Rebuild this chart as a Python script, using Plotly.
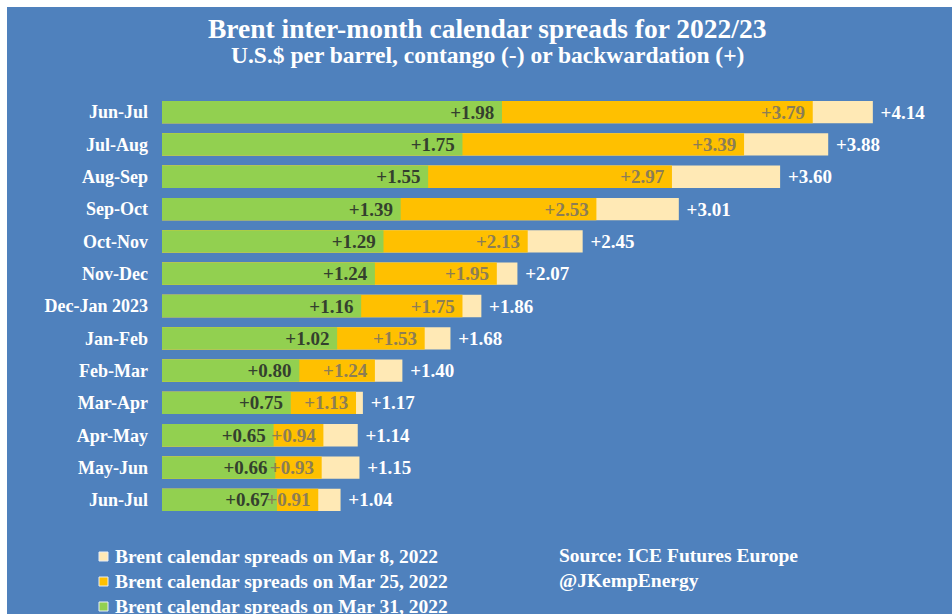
import plotly.graph_objects as go

# Brent inter-month calendar spreads, U.S.$ per barrel
spreads = ["Jun-Jul", "Jul-Aug", "Aug-Sep", "Sep-Oct", "Oct-Nov", "Nov-Dec",
           "Dec-Jan 2023", "Jan-Feb", "Feb-Mar", "Mar-Apr", "Apr-May",
           "May-Jun", "Jun-Jul"]
mar08 = [4.14, 3.88, 3.60, 3.01, 2.45, 2.07, 1.86, 1.68, 1.40, 1.17, 1.14, 1.15, 1.04]
mar25 = [3.79, 3.39, 2.97, 2.53, 2.13, 1.95, 1.75, 1.53, 1.24, 1.13, 0.94, 0.93, 0.91]
mar31 = [1.98, 1.75, 1.55, 1.39, 1.29, 1.24, 1.16, 1.02, 0.80, 0.75, 0.65, 0.66, 0.67]

legend_names = ["Brent calendar spreads on Mar 8, 2022",
                "Brent calendar spreads on Mar 25, 2022",
                "Brent calendar spreads on Mar 31, 2022"]

BLUE = "#4F81BD"
CREAM = "#FFE9B5"
GOLD = "#FFC000"
GREEN = "#92D050"
FONT = "Liberation Serif"

W, H = 952, 614
ML, MR, MT, MB = 162, 0, 96, 98
PW, PH = W - ML - MR, H - MT - MB


def px_x(p):
    return (p - ML) / PW


def px_y(p):
    return (H - MB - p) / PH


rows = list(range(len(spreads)))
NB = "\u00a0"
BAR_W = 0.69
VAL_SIZE = 19

fig = go.Figure()

fig.add_trace(go.Bar(
    y=rows, x=mar08, orientation="h", width=BAR_W, marker_color=CREAM,
    marker_line_width=0, name=legend_names[0],
    text=[f"{NB}+{v:.2f}" for v in mar08], textposition="outside",
    outsidetextfont=dict(family=FONT, size=VAL_SIZE, color="white", weight="bold"),
    cliponaxis=False,
))
fig.add_trace(go.Bar(
    y=rows, x=mar25, orientation="h", width=BAR_W, marker_color=GOLD,
    marker_line_width=0, name=legend_names[1],
))
fig.add_trace(go.Bar(
    y=rows, x=mar31, orientation="h", width=BAR_W, marker_color=GREEN,
    marker_line_width=0, name=legend_names[2],
    text=[f"+{v:.2f}{NB}" for v in mar31], textposition="inside",
    insidetextanchor="end", constraintext="none",
    insidetextfont=dict(family=FONT, size=VAL_SIZE, color="#34402E", weight="bold"),
))
# Mar 25 labels sit above the green bars
fig.add_trace(go.Bar(
    y=rows, x=mar25, orientation="h", width=BAR_W,
    marker_color="rgba(0,0,0,0)", marker_line_width=0, showlegend=False,
    text=[f"+{v:.2f}{NB}" for v in mar25], textposition="inside",
    insidetextanchor="end", constraintext="none",
    insidetextfont=dict(family=FONT, size=VAL_SIZE, color="#8C7D55", weight="bold"),
))

fig.update_layout(
    width=W, height=H, barmode="overlay", showlegend=False,
    paper_bgcolor=BLUE, plot_bgcolor=BLUE,
    margin=dict(l=ML, r=MR, t=MT, b=MB),
    xaxis=dict(range=[0, PW / 171.7], visible=False, fixedrange=True),
    yaxis=dict(range=[len(spreads) - 0.5, -0.5], tickvals=rows, ticktext=spreads,
               showgrid=False, zeroline=False, showline=False, ticks="",
               ticklabelstandoff=13,
               tickfont=dict(family=FONT, size=18, color="white", weight="bold")),
)

annotations = [
    dict(text="Brent inter-month calendar spreads for 2022/23", x=px_x(487), y=px_y(29),
         font=dict(family=FONT, size=27.5, color="white", weight="bold")),
    dict(text="U.S.$ per barrel, contango (-) or backwardation (+)", x=px_x(487), y=px_y(55),
         font=dict(family=FONT, size=23.5, color="white", weight="bold")),
    dict(text="Source: ICE Futures Europe<br>@JKempEnergy", x=px_x(557), y=px_y(543),
         xanchor="left", yanchor="top", align="left",
         font=dict(family=FONT, size=19.5, color="white", weight="bold")),
]
shapes = []
for i, (name, col) in enumerate(zip(legend_names, [CREAM, GOLD, GREEN])):
    cy = 556 + 25 * i
    annotations.append(dict(text=name, x=px_x(113), y=px_y(cy), xanchor="left",
                            font=dict(family=FONT, size=19.5, color="white", weight="bold")))
    shapes.append(dict(type="rect", xref="paper", yref="paper",
                       x0=px_x(99), x1=px_x(108), y0=px_y(cy + 5), y1=px_y(cy - 4),
                       fillcolor=col, line=dict(color="#E8EEF6", width=1)))

for a in annotations:
    a.update(xref="paper", yref="paper", showarrow=False)
    a.setdefault("xanchor", "center")
    a.setdefault("yanchor", "middle")

# white page edge along the top and left
shapes += [
    dict(type="rect", xref="paper", yref="paper", x0=px_x(0), x1=px_x(W), y0=px_y(7), y1=px_y(0),
         fillcolor="white", line_width=0),
    dict(type="rect", xref="paper", yref="paper", x0=px_x(0), x1=px_x(7), y0=px_y(H), y1=px_y(0),
         fillcolor="white", line_width=0),
]

fig.update_layout(annotations=annotations, shapes=shapes)
fig.write_html("out.html")
